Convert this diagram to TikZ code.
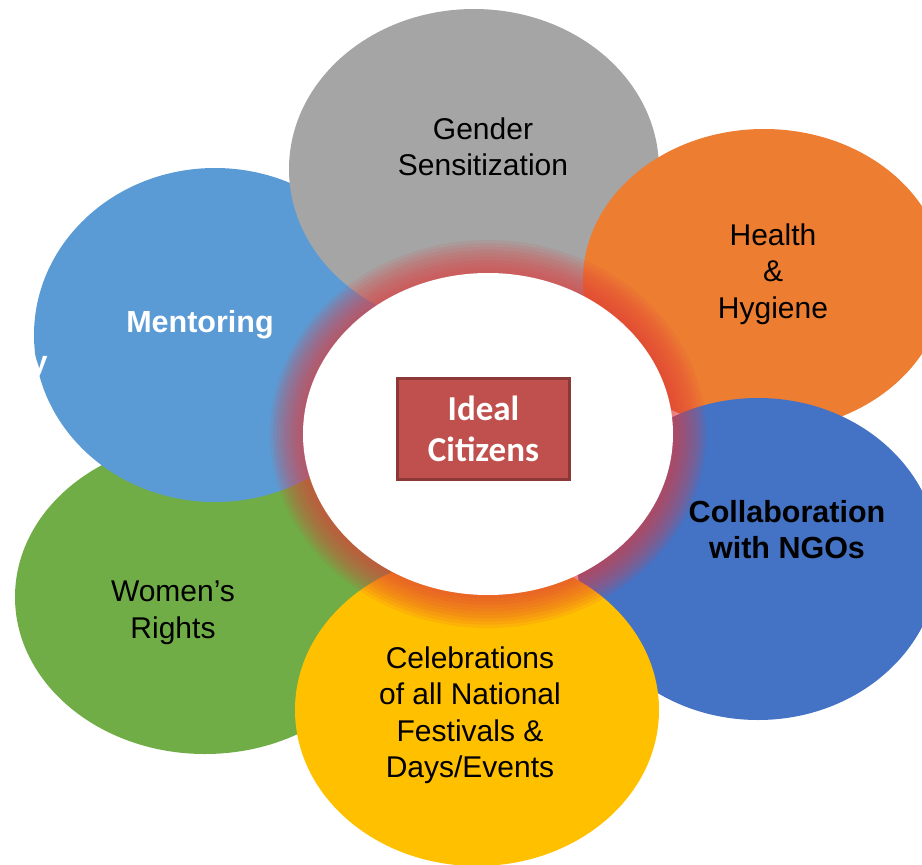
\documentclass[tikz,border=0pt]{standalone}
\usepackage{fontspec}
\setmainfont{Liberation Sans}
\newfontfamily\carlito{Carlito}
\usetikzlibrary{shapes.geometric}

\definecolor{petalgray}{HTML}{A5A5A5}
\definecolor{petalorange}{HTML}{ED7D31}
\definecolor{petalblue}{HTML}{4472C4}
\definecolor{petalyellow}{HTML}{FFC000}
\definecolor{petalgreen}{HTML}{70AD47}
\definecolor{petalsky}{HTML}{5B9BD5}
\definecolor{boxred}{HTML}{C0504D}
\definecolor{boxedge}{HTML}{8C3836}
\definecolor{glowred}{HTML}{E23C3C}

\begin{document}
\begin{tikzpicture}[x=1pt,y=-1pt,
    petal/.style={ellipse,inner sep=0pt,draw=none},
    caption/.style={align=center,font=\fontsize{30}{36.5}\selectfont},
    boldcaption/.style={caption,font=\bfseries\fontsize{30.5}{36}\selectfont},
    hubbox/.style={draw=boxedge,line width=3pt,fill=boxred,text=white,
        minimum width=172pt,minimum height=101pt,align=center,
        font=\carlito\bfseries\fontsize{35}{41}\selectfont}
]
    \useasboundingbox (0,0) rectangle (922,865);

    % outer petals, back to front
    \node[petal,fill=petalgreen,minimum width=380pt,minimum height=314pt] (women) at (205,597) {};
    \node[petal,fill=petalsky,minimum width=362pt,minimum height=334pt] (mentor) at (215,335) {};
    \node[petal,fill=petalgray,minimum width=370pt,minimum height=320pt] (gender) at (474,169) {};
    \node[petal,fill=petalorange,minimum width=362pt,minimum height=302pt] (health) at (764,280) {};
    \node[petal,fill=petalblue,minimum width=362pt,minimum height=322pt] (ngo) at (758,559) {};
    \node[petal,fill=petalyellow,minimum width=364pt,minimum height=312pt] (fest) at (477,710) {};

    % soft glow round the hub
    \coordinate (hub) at (488,434);
    \foreach \k in {0,...,9}
        \fill[glowred,opacity=0.1] (hub) ellipse ({218-3.3*\k} and {194-3.3*\k});
    \node[petal,fill=white,minimum width=370pt,minimum height=322pt] (core) at (hub) {};

    % labels
    \node[caption] (genderlbl) at (483,147) {Gender\\Sensitization};
    \node[caption] (healthlbl) at (773,274) {Health\\\&\\Hygiene};
    \node[boldcaption,text=white] (mentorlbl) at (200,325) {Mentoring};
    \node[boldcaption] (ngolbl) at (787,530) {Collaboration\\with NGOs};
    \node[caption] (womenlbl) at (173,613) {Women’s\\Rights};
    \node[caption] (festlbl) at (470,715) {Celebrations\\of all National\\Festivals \&\\Days/Events};
    \node[boldcaption,text=white,anchor=base] (stray) at (39,372) {y};

    \node[hubbox] (ideal) at (483.5,429) {Ideal\\Citizens};
\end{tikzpicture}
\end{document}
